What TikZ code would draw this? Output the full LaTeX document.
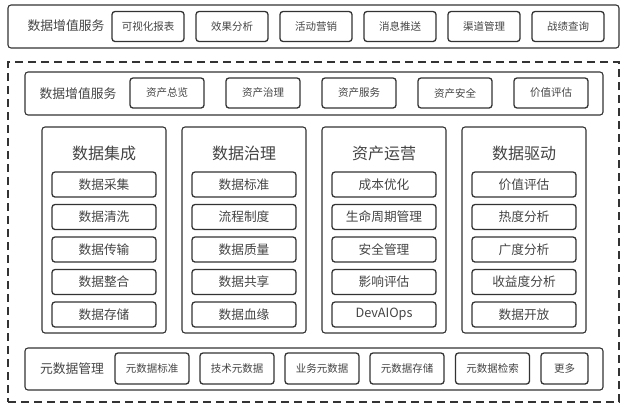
\documentclass[tikz,border=0pt]{standalone}
\usepackage{fontspec}
\setmainfont{Noto Sans CJK SC}
\definecolor{linec}{HTML}{333333}
\definecolor{textc}{HTML}{444444}
\begin{document}
\begin{tikzpicture}[x=1pt,y=-1pt,
  frame/.style={draw=linec, line width=1.1pt, rounded corners=3pt, inner sep=0pt},
  dashframe/.style={draw=linec, line width=1.2pt, dash pattern=on 8pt off 5pt, inner sep=0pt},
  btn/.style={draw=linec, line width=1.3pt, rounded corners=3pt, inner sep=0pt, minimum height=30pt, text=textc, font=\fontsize{10.5}{12}\selectfont},
  lbl/.style={text=textc, inner sep=0pt, font=\fontsize{12.8}{14}\selectfont},
  ttl/.style={text=textc, inner sep=0pt, font=\fontsize{16}{18}\selectfont},
  item/.style={draw=linec, line width=1.3pt, rounded corners=3pt, inner sep=0pt, minimum width=104pt, minimum height=25pt, text=textc, font=\fontsize{12.7}{14}\selectfont}]
\useasboundingbox (0,0) rectangle (626,408);
% top band
\node[frame, minimum width=611pt, minimum height=43pt] (top) at (313.5,26.5) {};
\node[lbl] (toplbl) at (66,26) {数据增值服务};
\foreach \t [count=\i from 0] in {可视化报表,效果分析,活动营销,消息推送,渠道管理,战绩查询}
  \node[btn, minimum width=72pt] (tb\i) at (148+84*\i,26.5) {\t};
% dashed region
\node[dashframe, minimum width=611pt, minimum height=340pt] (dash) at (313.5,232) {};
% second band
\node[frame, minimum width=578pt, minimum height=43pt] (mid) at (314,93.5) {};
\node[lbl] (midlbl) at (78,94) {数据增值服务};
\foreach \t [count=\i from 0] in {资产总览,资产治理,资产服务,资产安全,价值评估}
  \node[btn, minimum width=74pt] (mb\i) at (167+96*\i,93) {\t};
% columns
\foreach \ti/\a/\b/\c/\d/\e [count=\i from 0] in {
  数据集成/数据采集/数据清洗/数据传输/数据整合/数据存储,
  数据治理/数据标准/流程制度/数据质量/数据共享/数据血缘,
  资产运营/成本优化/生命周期管理/安全管理/影响评估/DevAIOps,
  数据驱动/价值评估/热度分析/广度分析/收益度分析/数据开放}{
  \node[frame, minimum width=124pt, minimum height=206pt] (col\i) at (104+140*\i,230) {};
  \node[ttl] (colt\i) at (104+140*\i,153) {\ti};
  \node[item] (c\i r0) at (104+140*\i,184.5) {\a};
  \node[item] (c\i r1) at (104+140*\i,217) {\b};
  \node[item] (c\i r2) at (104+140*\i,249.5) {\c};
  \node[item] (c\i r3) at (104+140*\i,282) {\d};
  \node[item] (c\i r4) at (104+140*\i,314.5) {\e};
}
% bottom band
\node[frame, minimum width=578pt, minimum height=42pt] (bot) at (314,369) {};
\node[lbl] (botlbl) at (72,369) {元数据管理};
\foreach \t/\x [count=\i from 0] in {元数据标准/152,技术元数据/237,业务元数据/322,元数据存储/407,元数据检索/492.5}
  \node[btn, minimum width=74pt, minimum height=31pt] (bb\i) at (\x,368.5) {\t};
\node[btn, minimum width=47pt, minimum height=31pt] (bb5) at (564.5,368.5) {更多};
\end{tikzpicture}
\end{document}
